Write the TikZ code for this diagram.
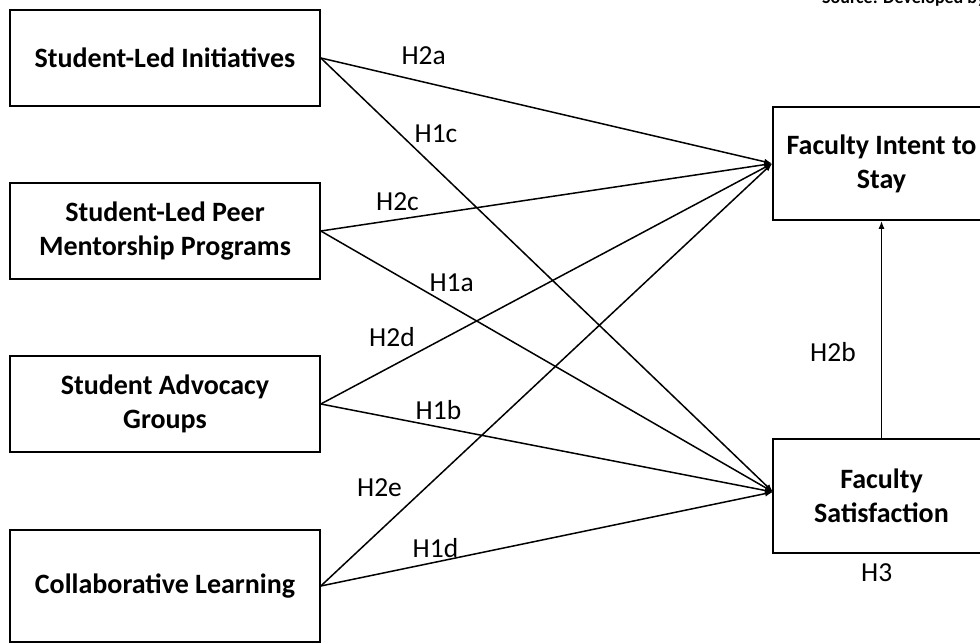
\documentclass[tikz,border=0pt]{standalone}
\usepackage{fontspec}
\setmainfont{Carlito}
\usetikzlibrary{arrows.meta}
\begin{document}
\begin{tikzpicture}[x=1pt,y=-1pt,
  box/.style={draw, line width=1.6pt, minimum width=310pt, align=center,
    font=\fontsize{28}{34}\selectfont\bfseries, inner sep=0pt},
  rbox/.style={draw, line width=1.6pt, minimum width=217pt, align=center,
    font=\fontsize{28}{34}\selectfont\bfseries, inner sep=0pt},
  conn/.style={line width=1.5pt, -{Latex[length=8pt,width=6pt]}},
  hlab/.style={font=\fontsize{27.5}{34}\selectfont, inner sep=0pt}]
\useasboundingbox (0,0) rectangle (980,644);
\clip (0,0) rectangle (980,644);
\fill[white] (0,0) rectangle (980,644);
% left boxes
\node[box, minimum height=96pt] (sli) at (165,58) {Student-Led Initiatives};
\node[box, minimum height=96pt] (peer) at (165,231) {Student-Led Peer\\Mentorship Programs};
\node[box, minimum height=96pt] (adv) at (165,404) {Student Advocacy\\Groups};
\node[box, minimum height=112pt] (col) at (165,586) {Collaborative Learning};
% right boxes
\node[rbox, minimum height=113pt] (intent) at (881.5,163.5) {Faculty Intent to\\Stay};
\node[rbox, minimum height=114pt] (sat) at (881.5,496) {Faculty\\Satisfaction};
\coordinate (satin) at (773,492);
% source
\node[anchor=base west, font=\fontsize{18}{20}\selectfont\bfseries, inner sep=0pt] (src) at (822,4) {Source: Developed by};
% connectors
\draw[conn] (sli.east) -- (intent.west);
\draw[conn] (sli.east) -- (satin);
\draw[conn] (peer.east) -- (intent.west);
\draw[conn] (peer.east) -- (satin);
\draw[conn] (adv.east) -- (intent.west);
\draw[conn] (adv.east) -- (satin);
\draw[conn] (col.east) -- (intent.west);
\draw[conn] (col.east) -- (satin);
\draw[conn] (sat.north) -- (intent.south);
% labels
\node[hlab] (h2a) at (423.7,55.5) {H2a};
\node[hlab] (h1c) at (436,134) {H1c};
\node[hlab] (h2c) at (397.5,202) {H2c};
\node[hlab] (h1a) at (451.7,283) {H1a};
\node[hlab] (h2d) at (392,337.5) {H2d};
\node[hlab] (h1b) at (438.5,410.5) {H1b};
\node[hlab] (h2e) at (379.5,487.5) {H2e};
\node[hlab] (h1d) at (435.5,548.5) {H1d};
\node[hlab] (h2b) at (833,352) {H2b};
\node[hlab] (h3) at (876.7,572.5) {H3};
\end{tikzpicture}
\end{document}
